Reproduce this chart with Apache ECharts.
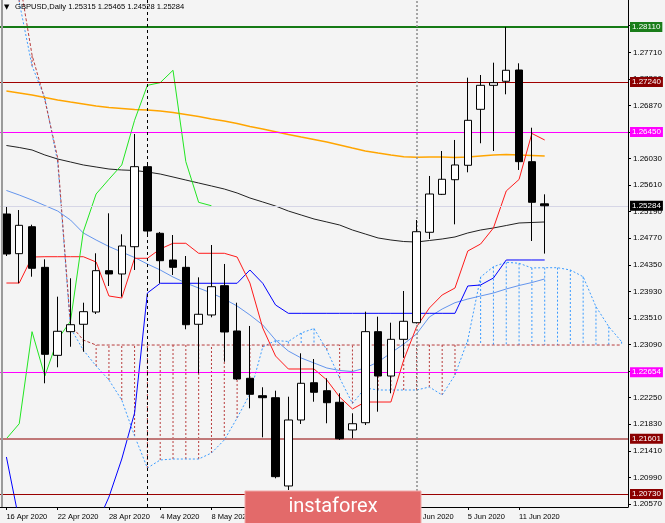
<!DOCTYPE html>
<html><head><meta charset="utf-8">
<script src="https://cdn.jsdelivr.net/npm/echarts@6/dist/echarts.min.js"></script>
<style>html,body{margin:0;padding:0;background:#f4f4f4;}#c{width:665px;height:523px;}</style>
</head><body><div id="c"></div>
<script>
const dates = ['16 Apr 2020','17 Apr 2020','20 Apr 2020','21 Apr 2020','22 Apr 2020','23 Apr 2020','24 Apr 2020','27 Apr 2020','28 Apr 2020','29 Apr 2020','30 Apr 2020',
'1 May 2020','4 May 2020','5 May 2020','6 May 2020','7 May 2020','8 May 2020','11 May 2020','12 May 2020','13 May 2020','14 May 2020','15 May 2020','18 May 2020','19 May 2020','20 May 2020','21 May 2020','22 May 2020','25 May 2020','26 May 2020','27 May 2020','28 May 2020','29 May 2020',
'1 Jun 2020','2 Jun 2020','3 Jun 2020','4 Jun 2020','5 Jun 2020','8 Jun 2020','9 Jun 2020','10 Jun 2020','11 Jun 2020','12 Jun 2020','15 Jun 2020'];
const futureSlots = ['','','','','',''];
const xLabelDates = ['16 Apr 2020','22 Apr 2020','28 Apr 2020','4 May 2020','8 May 2020','14 May 2020','20 May 2020','26 May 2020','1 Jun 2020','5 Jun 2020','11 Jun 2020'];
const yTicks = [1.20570,1.20990,1.21410,1.21830,1.22250,1.22670,1.23090,1.23510,1.23930,1.24350,1.24770,1.25190,1.25610,1.26030,1.26450,1.26870,1.27290,1.27710,1.28130];

const open  = [1.25154,1.24527,1.24953,1.24311,1.22920,1.23294,1.23411,1.23605,1.24258,1.24206,1.24637,1.25902,1.24849,1.24427,1.24311,1.23411,1.23558,1.24021,1.23305,1.22557,1.22282,1.22250,1.20855,1.21898,1.22487,1.22361,1.22178,1.21740,1.21855,1.23294,1.22593,1.23173,1.23436,1.24865,1.25465,1.25696,1.25924,1.26809,1.27188,1.27252,1.27430,1.25981,1.25315];
const high  = [1.25265,1.25217,1.24985,1.24438,1.23847,1.24138,1.23752,1.24533,1.25165,1.24833,1.26419,1.25955,1.24870,1.24822,1.24490,1.24153,1.24664,1.24364,1.23752,1.23384,1.22415,1.22361,1.22266,1.22952,1.22862,1.22557,1.22320,1.22004,1.23610,1.23531,1.23436,1.23937,1.25059,1.25755,1.26150,1.26324,1.27309,1.27351,1.27546,1.28110,1.27536,1.26518,1.25465];
const low   = [1.24490,1.24059,1.24163,1.22478,1.22731,1.23056,1.22977,1.23573,1.24016,1.23847,1.24269,1.24822,1.24059,1.24190,1.23332,1.22636,1.23521,1.22819,1.22530,1.22083,1.21624,1.20976,1.20791,1.21835,1.22187,1.21846,1.21582,1.21609,1.21819,1.22029,1.22320,1.22883,1.23423,1.24759,1.25454,1.24991,1.25813,1.26272,1.26150,1.27046,1.25850,1.24727,1.24528];
const close = [1.24522,1.24975,1.24296,1.22936,1.23300,1.23404,1.23610,1.24258,1.24206,1.24648,1.25902,1.24885,1.24416,1.24311,1.23404,1.23569,1.24005,1.23289,1.22546,1.22304,1.22250,1.21002,1.21898,1.22478,1.22336,1.22171,1.21602,1.21839,1.23294,1.22593,1.23173,1.23458,1.24874,1.25470,1.25703,1.25929,1.26635,1.27188,1.27230,1.27426,1.25981,1.25339,1.25284];

const maBlack = [1.26237,1.26205,1.26166,1.26087,1.26023,1.25976,1.25929,1.25897,1.25865,1.25850,1.25842,1.25818,1.25786,1.25739,1.25691,1.25644,1.25597,1.25549,1.25486,1.25407,1.25344,1.25280,1.25201,1.25138,1.25075,1.25028,1.24980,1.24901,1.24838,1.24775,1.24743,1.24719,1.24711,1.24735,1.24759,1.24791,1.24854,1.24901,1.24933,1.24972,1.25012,1.25020,1.25028];
const maOrange = [1.27098,1.27067,1.27035,1.26996,1.26956,1.26924,1.26893,1.26861,1.26837,1.26822,1.26806,1.26798,1.26782,1.26758,1.26727,1.26695,1.26656,1.26624,1.26585,1.26537,1.26498,1.26455,1.26411,1.26371,1.26332,1.26292,1.26245,1.26197,1.26150,1.26118,1.26087,1.26060,1.26050,1.26055,1.26055,1.26047,1.26055,1.26071,1.26087,1.26095,1.26087,1.26079,1.26071];
const maBlue = [1.25526,1.25454,1.25375,1.25288,1.25201,1.25059,1.24854,1.24743,1.24640,1.24553,1.24466,1.24364,1.24269,1.24158,1.24063,1.23984,1.23905,1.23810,1.23700,1.23558,1.23400,1.23162,1.22988,1.22878,1.22799,1.22720,1.22680,1.22664,1.22720,1.22815,1.22957,1.23099,1.23257,1.23526,1.23652,1.23752,1.23810,1.23858,1.23905,1.23969,1.24024,1.24071,1.24127];
const tenkan = [1.24063,1.24063,1.24474,1.24479,1.24479,1.24479,1.24479,1.24395,1.23858,1.23826,1.24454,1.24454,1.24601,1.24691,1.24691,1.24533,1.24533,1.24533,1.24474,1.24063,1.23352,1.22909,1.22704,1.22704,1.22704,1.22530,1.22261,1.22072,1.22182,1.22182,1.22182,1.22846,1.23368,1.23668,1.23874,1.23984,1.24569,1.24680,1.24933,1.25518,1.25700,1.26427,1.26324];
const kijun = [1.21313,1.20300,1.20000,1.20000,1.20000,1.20000,1.20000,1.20220,1.20681,1.21281,1.22008,1.23905,1.24059,1.24059,1.24059,1.24059,1.24059,1.24059,1.24059,1.24269,1.24059,1.23716,1.23584,1.23584,1.23584,1.23584,1.23584,1.23584,1.23584,1.23584,1.23584,1.23584,1.23584,1.23584,1.23584,1.23584,1.24016,1.24032,1.24142,1.24427,1.24427,1.24427,1.24427];
const chikou = [1.21602,1.21839,1.23294,1.22593,1.23173,1.23458,1.24874,1.25470,1.25703,1.25929,1.26635,1.27188,1.27230,1.27426,1.25981,1.25339,1.25284];
const senkouA = [1.29485,1.28505,1.27494,1.26988,1.25976,1.23352,1.23004,1.22751,1.22530,1.22214,1.21645,1.21139,1.21266,1.21281,1.21281,1.21281,1.21376,1.21582,1.21929,1.22309,1.23052,1.23154,1.23139,1.23273,1.23344,1.23004,1.22562,1.22159,1.22404,1.22372,1.22372,1.22372,1.22372,1.22419,1.22293,1.22609,1.23162,1.24158,1.24321,1.24391,1.24375,1.24301,1.24305,1.24305,1.24269,1.24163,1.23689,1.23373,1.23136];
const senkouB = [1.29959,1.28885,1.27667,1.26956,1.26039,1.23400,1.23162,1.23083,1.23083,1.23083,1.23083,1.23083,1.23083,1.23083,1.23083,1.23083,1.23083,1.23083,1.23083,1.23083,1.23083,1.23083,1.23083,1.23083,1.23083,1.23083,1.23083,1.23083,1.23083,1.23083,1.23083,1.23083,1.23083,1.23083,1.23083,1.23083,1.23083,1.23083,1.23083,1.23083,1.23083,1.23083,1.23083,1.23083,1.23083,1.23083,1.23083,1.23083,1.23083];

const levelValues = [1.28110,1.27240,1.26450,1.22654,1.21601,1.20730];
const levelLineColor = ['#157a15','#a00000','#ff00ff','#ff00ff','#c07878','#990000'];
const levelLineWidth = [2,1,1.2,1.2,2,1];
const levelBg = ['#1a7d1a','#8b0000','#ff00ff','#ff00ff','#8b0000','#8b0000'];
const separatorDates = ['1 May 2020','1 Jun 2020'];
const separatorColor = ['#000','#8a8a8a'];

const yMin = 1.205226, yMax = 1.285367;

const xCats = dates.concat(futureSlots);
const candleData = open.map((o,i)=>[o, close[i], low[i], high[i]]);
const cloud = senkouA.map((a,i)=>[i, a, senkouB[i]]);
const showLbl = (i, v) => xLabelDates.indexOf(v) >= 0;
const last = open.length-1;

const hMarks = levelValues.map((v,k)=>({
  yAxis: v,
  lineStyle:{color:levelLineColor[k], width:levelLineWidth[k], type:'solid'},
  label:{formatter: v.toFixed(5), backgroundColor: levelBg[k], color:'#fff'}
}));
hMarks.push({yAxis: close[last], lineStyle:{color:'#d6d6e6', width:1, type:'solid'},
  label:{formatter: close[last].toFixed(5), backgroundColor:'#000', color:'#fff'}});
const vMarks = separatorDates.map((d,k)=>({xAxis:d,
  lineStyle:{color:separatorColor[k], width:k?1.5:1, type:k?[2,2]:[3,3]}}));

const lineS = (name, data, color, width, z, extra) => Object.assign({
  name, type:'line', data, symbol:'none', silent:true, z,
  lineStyle:{color, width}, connectNulls:false
}, extra||{});

const titleText = 'GBPUSD,Daily ' + [open[last],high[last],low[last],close[last]].map(v=>v.toFixed(5)).join(' ');

const chart = echarts.init(document.getElementById('c'));
chart.setOption({
  animation:false,
  backgroundColor:'#f4f4f4',
  textStyle:{fontFamily:'"Liberation Sans", Arial, sans-serif'},
  grid:{left:-4, right:37, top:0, bottom:16, show:false},
  xAxis:{type:'category', data:xCats, boundaryGap:true,
    axisLine:{show:true, lineStyle:{color:'#000', width:1}},
    axisTick:{show:true, alignWithLabel:true, interval:showLbl, length:3, lineStyle:{color:'#000'}},
    axisLabel:{interval:showLbl, align:'left', color:'#000', fontSize:7.5, margin:6},
    splitLine:{show:false}},
  yAxis:{type:'value', position:'right', min:yMin, max:yMax,
    axisLine:{show:true, lineStyle:{color:'#000', width:1}},
    axisTick:{show:true, length:3, customValues:yTicks, lineStyle:{color:'#000'}},
    axisLabel:{customValues:yTicks, formatter:v=>v.toFixed(5), color:'#000', fontSize:8, margin:5},
    splitLine:{show:false}},
  series:[
    {type:'custom', name:'cloud', data:cloud, z:1, clip:true, silent:true, encode:{x:0, y:[1,2]},
      renderItem:(params, api)=>{
        const i = api.value(0), a = api.value(1), b = api.value(2);
        const p1 = api.coord([i,a]), p2 = api.coord([i,b]);
        return {type:'line', shape:{x1:p1[0], y1:p1[1], x2:p2[0], y2:p2[1]},
          style:{stroke: a > b ? '#3c9cff' : '#b83c3c', lineWidth:1, lineDash:[2,2]}};
      }},
    lineS('SenkouA', senkouA, '#3c9cff', 1, 2, {lineStyle:{color:'#3c9cff', width:1, type:[2,2]}}),
    lineS('SenkouB', senkouB, '#b83c3c', 1, 2, {lineStyle:{color:'#b83c3c', width:1, type:[3,2]}}),
    lineS('MA black', maBlack, '#222', 1, 3, {markLine:{silent:true, symbol:['none','none'], animation:false,
      precision:5, label:{position:'end', fontSize:8, padding:[1,2,1,2], distance:2}, data:hMarks}}),
    lineS('MA orange', maOrange, '#ffa500', 1.5, 3, {markLine:{silent:true, symbol:['none','none'], animation:false,
      label:{show:false}, data:vMarks}}),
    lineS('MA blue', maBlue, '#6495ed', 1, 3),
    lineS('Kijun', kijun, '#0000ff', 1, 3),
    lineS('Tenkan', tenkan, '#ff1a1a', 1, 3),
    lineS('Chikou', chikou, '#22e622', 1, 3),
    {type:'candlestick', name:'GBPUSD', data:candleData, z:5, barWidth:8, silent:true,
      itemStyle:{color:'#ffffff', color0:'#000000', borderColor:'#000000', borderColor0:'#000000', borderWidth:1}}
  ],
  graphic:[
    {type:'rect', shape:{x:1, y:0, width:2, height:507}, style:{fill:'#9a9a9a'}, z:50, silent:true},
    {type:'text', x:4, y:4, style:{text:'▼', font:'7px "DejaVu Sans"', fill:'#000'}, z:50},
    {type:'text', x:15, y:3, style:{text:titleText, font:'7.6px "Liberation Sans"', fill:'#000'}, z:50},
    {type:'rect', shape:{x:245, y:491, width:176, height:33}, style:{fill:'#e36a6a', stroke:'#f2a8a8', lineWidth:1}, z:100, silent:true},
    {type:'text', x:333, y:507, style:{text:'instaforex', font:'20px Roboto', fill:'#fff', textAlign:'center', textVerticalAlign:'middle'}, z:101}
  ]
});
</script></body></html>
